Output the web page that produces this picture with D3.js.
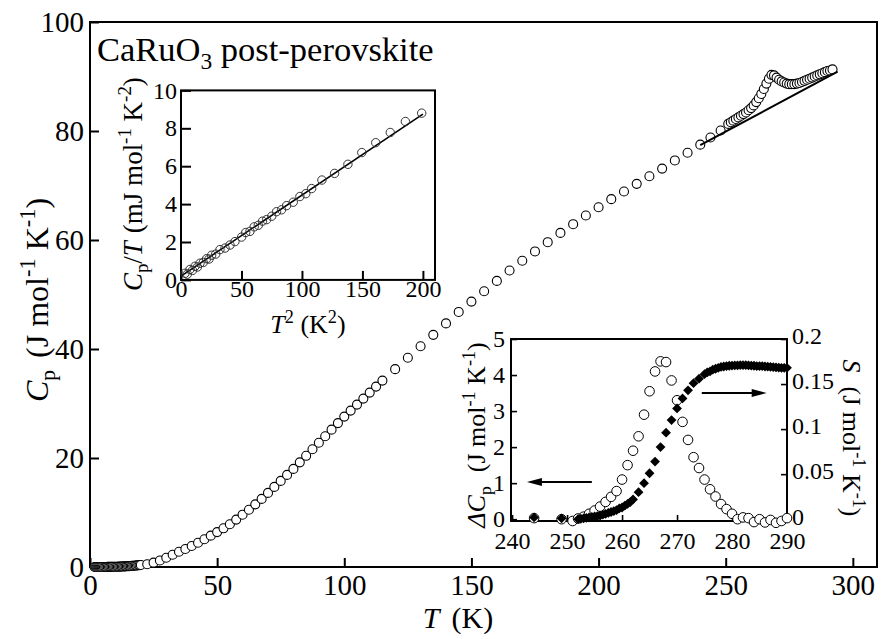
<!DOCTYPE html>
<html>
<head>
<meta charset="utf-8">
<script src="https://cdn.jsdelivr.net/npm/d3@7"></script>
<style>
  body { margin: 0; background: #fff; }
  svg text { font-family: "Liberation Serif", "Times New Roman", serif; fill: #000; }
</style>
</head>
<body>
<svg id="chart" width="882" height="639"></svg>
<script>
// ---- Main panel: heat capacity Cp(T) ----
const mainT = [
  1.8, 2.2, 2.6, 3.0, 3.4, 3.8, 4.2, 4.6, 5.0, 5.5, 6.0, 6.5, 7.0, 7.5, 8.0, 8.5, 9.0, 9.5, 10.0,
  10.5, 11.0, 11.5, 12.0, 12.5, 13.0, 13.5, 14.0, 14.5, 15.0, 15.5, 16.0, 16.5, 17.0, 17.5, 18.0,
  18.5, 19.0, 19.5, 20.0,
  22.5, 25, 27.5, 30, 32.5, 35, 37.5, 40, 42.5, 45, 47.5, 50, 52.5, 55, 57.5, 60, 62.5, 65, 67.5,
  70, 72.5, 75, 77.5, 80, 82.5, 85, 87.5, 90, 92.5, 95, 97.5, 100, 102.5, 105, 107.5, 110, 112.5, 115,
  120, 125, 130, 135, 140, 145, 150, 155, 160, 165, 170, 175, 180, 185, 190, 195, 200, 205, 210,
  215, 220, 225, 230, 235, 240, 244, 248,
  251, 252, 253, 254, 255, 256, 257, 258, 259, 260, 261, 262, 263, 264, 265, 266, 267, 268, 269,
  270, 271, 272, 273, 274, 275, 276, 277, 278, 279, 280, 281, 282, 283, 284, 285, 286, 287, 288,
  289, 290, 291, 292
];
const mainCp = [
  0.0006, 0.0009, 0.0013, 0.0018, 0.0024, 0.0031, 0.004, 0.005, 0.0064, 0.0083, 0.0105, 0.013,
  0.016, 0.020, 0.024, 0.028, 0.033, 0.039, 0.045, 0.052, 0.059, 0.068, 0.076, 0.086, 0.097, 0.108,
  0.12, 0.135, 0.15, 0.166, 0.183, 0.2, 0.22, 0.24, 0.265, 0.29, 0.315, 0.345, 0.375,
  0.5, 0.8, 1.2, 1.7, 2.25, 2.8, 3.3, 3.85, 4.45, 5.1, 5.75, 6.4, 7.1, 7.85, 8.7, 9.6, 10.5, 11.5,
  12.5, 13.6, 14.7, 15.8, 16.9, 18.0, 19.2, 20.4, 21.6, 22.8, 24.0, 25.2, 26.4, 27.6, 28.7, 29.8,
  30.9, 32.0, 33.1, 34.2,
  36.3, 38.4, 40.5, 42.6, 44.7, 46.8, 48.7, 50.6, 52.5, 54.4, 56.2, 57.9, 59.6, 61.3, 62.9, 64.5,
  66.0, 67.5, 68.9, 70.3, 71.7, 73.1, 74.6, 76.0, 77.5, 78.8, 80.1,
  81.3, 81.6, 81.9, 82.2, 82.5, 82.8, 83.1, 83.4, 83.8, 84.2, 84.7, 85.3, 86.0, 86.8, 87.7, 88.7,
  89.6, 90.3, 90.2, 89.8, 89.4, 89.1, 88.9, 88.7, 88.6, 88.6, 88.6, 88.7, 88.8, 89.0, 89.2, 89.4,
  89.6, 89.8, 90.0, 90.2, 90.4, 90.6, 90.8, 91.0, 91.1, 91.3
];
// lattice background drawn through the transition
const bgT = [240, 294];
const bgCp = [77.4, 90.9];
const mainXTicks = [0, 50, 100, 150, 200, 250, 300];
const mainYTicks = [0, 20, 40, 60, 80, 100];

// ---- Upper inset: Cp/T versus T^2 ----
const lowT2 = [3.3, 5.2, 7.4, 9.5, 11.6, 13.6, 15.7, 18.4, 21.2, 23.2, 25.3, 28.7, 32.2, 36.4, 40.5,
  44.6, 50.1, 53.5, 57.0, 60.5, 63.9, 67.4, 70.8, 75.0, 79.0, 83.1, 87.3, 92.8, 98.3, 103.2, 108.0,
  116.5, 127.0, 138.0, 149.5, 161.0, 173.0, 185.5, 199.0];
const lowCpT = [0.35, 0.30, 0.55, 0.50, 0.72, 0.68, 0.88, 0.92, 1.12, 1.10, 1.30, 1.36, 1.60, 1.68,
  1.84, 2.02, 2.26, 2.50, 2.56, 2.80, 2.88, 3.10, 3.18, 3.36, 3.60, 3.70, 3.92, 4.10, 4.40, 4.55,
  4.82, 5.27, 5.62, 6.10, 6.72, 7.24, 7.78, 8.36, 8.80];
const fitT2 = [0, 200];
const fitCpT = [0.2, 8.75];
const lowXTicks = [0, 50, 100, 150, 200];
const lowYTicks = [0, 2, 4, 6, 8, 10];

// ---- Lower inset: excess heat capacity and entropy ----
const dCpT = [244, 249, 251, 252, 253, 254, 255, 256, 257, 258, 259, 260, 261, 262, 263, 264, 265,
  266, 267, 268, 269, 270, 271, 272, 273, 274, 275, 276, 277, 278, 279, 280, 281, 282, 283, 284,
  285, 286, 287, 288, 289, 290];
const dCp = [0.03, 0.0, -0.05, 0.02, 0.07, 0.15, 0.24, 0.35, 0.48, 0.62, 0.78, 1.1, 1.5, 1.9, 2.3,
  2.9, 3.55, 4.1, 4.38, 4.36, 3.85, 3.3, 2.7, 2.2, 1.72, 1.42, 1.1, 0.83, 0.63, 0.42, 0.28, 0.15,
  0.0, 0.05, 0.03, -0.08, 0.0, -0.09, -0.02, -0.1, -0.05, 0.03];
const entT = [244, 249, 252, 252.5, 253, 253.5, 254, 254.5, 255, 255.5, 256, 256.5, 257, 257.5,
  258, 258.5, 259, 259.5, 260, 260.5, 261, 261.5, 262, 263, 264, 265, 266, 267, 268, 269, 270, 271,
  272, 273, 274, 275, 275.5, 276, 276.5, 277, 277.5, 278, 278.5, 279, 279.5, 280, 280.5, 281, 281.5,
  282, 282.5, 283, 283.5, 284, 284.5, 285, 285.5, 286, 286.5, 287, 287.5, 288, 288.5, 289, 289.5, 290];
const entS = [0.002, 0.001, 0.0, 0.0005, 0.001, 0.0015, 0.002, 0.0025, 0.003, 0.0035, 0.004, 0.005,
  0.006, 0.007, 0.008, 0.009, 0.010, 0.012, 0.013, 0.015, 0.017, 0.019, 0.022, 0.030, 0.040, 0.051,
  0.064, 0.080, 0.096, 0.110, 0.123, 0.134, 0.143, 0.151, 0.156, 0.161, 0.163, 0.164, 0.166, 0.167,
  0.168, 0.169, 0.1695, 0.170, 0.1703, 0.1705, 0.1707, 0.1708, 0.171, 0.171, 0.171, 0.1708, 0.1705,
  0.1703, 0.170, 0.170, 0.1698, 0.1695, 0.1693, 0.169, 0.1688, 0.1685, 0.1683, 0.168, 0.168, 0.168];
const hiXTicks = [240, 250, 260, 270, 280, 290];
const hiYTicks = [0, 1, 2, 3, 4, 5];
const hiRTicks = [0, 0.05, 0.1, 0.15, 0.2];
const hiRLabels = ["0", "0.05", "0.1", "0.15", "0.2"];
// arrows pointing to the axis each series belongs to: [from T, to T, level on the left axis]
const arrowLeft = [254.5, 242.7, 1.03];
const arrowRight = [274.5, 286.3, 3.5];

const FONT = '"Liberation Serif", "Times New Roman", serif';
const svg = d3.select("#chart");

// rich text: parts with italic / subscript / superscript
function rich(textSel, parts, size) {
  let shift = 0;
  textSel.attr("font-size", size).style("font-family", FONT);
  parts.forEach(p => {
    let target = 0, fs = size;
    if (p.sub) { target = size * 0.22; fs = size * 0.68; }
    if (p.sup) { target = -size * 0.4; fs = size * 0.7; }
    const ts = textSel.append("tspan").text(p.t).attr("font-size", fs);
    const dy = target - shift;
    if (dy !== 0) ts.attr("dy", dy);
    if (p.dx) ts.attr("dx", p.dx);
    if (p.i) ts.attr("font-style", "italic");
    shift = target;
  });
}

function styleAxis(g, size, tickWidth) {
  g.select(".domain").remove();
  g.selectAll(".tick line").attr("stroke", "#000").attr("stroke-width", tickWidth);
  g.selectAll(".tick text").attr("font-size", size).style("font-family", FONT).attr("fill", "#000");
}

// ================= Main panel =================
const x = d3.scaleLinear().domain([0, 309.5]).range([90, 877]);
const y = d3.scaleLinear().domain([0, 100]).range([567, 22]);

svg.append("rect")
  .attr("x", x.range()[0]).attr("y", y.range()[1])
  .attr("width", x.range()[1] - x.range()[0]).attr("height", y.range()[0] - y.range()[1])
  .attr("fill", "none").attr("stroke", "#000").attr("stroke-width", 2);

const gx = svg.append("g").attr("transform", `translate(0,${y.range()[0]})`)
  .call(d3.axisBottom(x).tickValues(mainXTicks).tickFormat(d3.format("d"))
    .tickSizeInner(-9).tickSizeOuter(0).tickPadding(10));
const gy = svg.append("g").attr("transform", `translate(${x.range()[0]},0)`)
  .call(d3.axisLeft(y).tickValues(mainYTicks).tickFormat(d3.format("d"))
    .tickSizeInner(-9).tickSizeOuter(0).tickPadding(6));
styleAxis(gx, 29, 2);
styleAxis(gy, 29, 2);
gx.selectAll(".tick text").attr("dy", "0.62em");

// data circles
const mainPts = mainT.map((t, i) => [t, mainCp[i]]);
svg.append("g").selectAll("circle").data(mainPts).join("circle")
  .attr("cx", d => x(d[0])).attr("cy", d => y(d[1])).attr("r", 4.5)
  .attr("fill", "#fff").attr("stroke", "#000").attr("stroke-width", 1.1);

svg.append("path")
  .attr("d", d3.line().x(d => x(d[0])).y(d => y(d[1]))(bgT.map((t, i) => [t, bgCp[i]])))
  .attr("fill", "none").attr("stroke", "#000").attr("stroke-width", 2);

// title
rich(svg.append("text").attr("x", 97).attr("y", 61),
  [{ t: "CaRuO" }, { t: "3", sub: true }, { t: " post-perovskite" }], 34.5);

// axis titles
rich(svg.append("text").attr("x", 458).attr("y", 628).attr("text-anchor", "middle"),
  [{ t: "T", i: true }, { t: "(K)", dx: 12 }], 30);
rich(svg.append("text").attr("transform", "translate(48,300) rotate(-90)").attr("text-anchor", "middle"),
  [{ t: "C", i: true }, { t: "p", sub: true }, { t: "(J mol", dx: 12 }, { t: "-1", sup: true }, { t: " K" },
   { t: "-1", sup: true }, { t: ")" }], 32);

// ================= Upper inset =================
const ix = d3.scaleLinear().domain([0, 210]).range([181, 435]);
const iy = d3.scaleLinear().domain([0, 10]).range([279.9, 90.4]);

svg.append("rect")
  .attr("x", ix.range()[0]).attr("y", iy.range()[1])
  .attr("width", ix.range()[1] - ix.range()[0]).attr("height", iy.range()[0] - iy.range()[1])
  .attr("fill", "#fff").attr("stroke", "#000").attr("stroke-width", 2);

const igx = svg.append("g").attr("transform", `translate(0,${iy.range()[0]})`)
  .call(d3.axisBottom(ix).tickValues(lowXTicks).tickFormat(d3.format("d"))
    .tickSizeInner(-9).tickSizeOuter(0).tickPadding(2));
const igy = svg.append("g").attr("transform", `translate(${ix.range()[0]},0)`)
  .call(d3.axisLeft(iy).tickValues(lowYTicks).tickFormat(d3.format("d"))
    .tickSizeInner(-10).tickSizeOuter(0).tickPadding(4));
styleAxis(igx, 24, 2);
styleAxis(igy, 24, 2);
igx.selectAll(".tick text").attr("dy", "0.62em");

svg.append("path")
  .attr("d", d3.line().x(d => ix(d[0])).y(d => iy(d[1]))(fitT2.map((t, i) => [t, fitCpT[i]])))
  .attr("fill", "none").attr("stroke", "#000").attr("stroke-width", 1.6);
svg.append("g").selectAll("circle").data(lowT2.map((t, i) => [t, lowCpT[i]])).join("circle")
  .attr("cx", d => ix(d[0])).attr("cy", d => iy(d[1])).attr("r", 4.2)
  .attr("fill", "none").attr("stroke", "#333").attr("stroke-width", 1);

rich(svg.append("text").attr("x", 308).attr("y", 333).attr("text-anchor", "middle"),
  [{ t: "T", i: true }, { t: "2", sup: true }, { t: " (K" }, { t: "2", sup: true }, { t: ")" }], 26);
rich(svg.append("text").attr("transform", "translate(142,184) rotate(-90)").attr("text-anchor", "middle"),
  [{ t: "C", i: true }, { t: "p", sub: true }, { t: "/" }, { t: "T", i: true }, { t: "(mJ mol", dx: 8 },
   { t: "-1", sup: true }, { t: " K" }, { t: "-2", sup: true }, { t: ")" }], 27);

// ================= Lower inset =================
const hx = d3.scaleLinear().domain([239.8, 290]).range([511, 787]);
const hy = d3.scaleLinear().domain([-0.05, 5]).range([521, 339]);
const hyR = d3.scaleLinear().domain([-0.002, 0.2]).range([521, 339]);

svg.append("rect")
  .attr("x", hx.range()[0]).attr("y", hy.range()[1])
  .attr("width", hx.range()[1] - hx.range()[0]).attr("height", hy.range()[0] - hy.range()[1])
  .attr("fill", "#fff").attr("stroke", "#000").attr("stroke-width", 2);

const hgx = svg.append("g").attr("transform", `translate(0,${hy.range()[0]})`)
  .call(d3.axisBottom(hx).tickValues(hiXTicks).tickFormat(d3.format("d"))
    .tickSizeInner(-6).tickSizeOuter(0).tickPadding(13));
const hgy = svg.append("g").attr("transform", `translate(${hx.range()[0]},0)`)
  .call(d3.axisLeft(hy).tickValues(hiYTicks).tickFormat(d3.format("d"))
    .tickSizeInner(-6).tickSizeOuter(0).tickPadding(6));
const hgr = svg.append("g").attr("transform", `translate(${hx.range()[1]},0)`)
  .call(d3.axisRight(hyR).tickValues(hiRTicks).tickFormat((d, i) => hiRLabels[i])
    .tickSizeInner(-6).tickSizeOuter(0).tickPadding(5));
styleAxis(hgx, 24, 1.6);
styleAxis(hgy, 24, 1.6);
styleAxis(hgr, 24, 1.6);
hgx.selectAll(".tick text").attr("dy", "0.62em");
hgr.selectAll(".tick text").attr("dy", "0.2em");

svg.append("g").selectAll("circle").data(dCpT.map((t, i) => [t, dCp[i]])).join("circle")
  .attr("cx", d => hx(d[0])).attr("cy", d => hy(d[1])).attr("r", 4.8)
  .attr("fill", "#fff").attr("stroke", "#000").attr("stroke-width", 1);
const diamond = d3.symbol().type(d3.symbolSquare).size(48);
svg.append("g").selectAll("path").data(entT.map((t, i) => [t, entS[i]])).join("path")
  .attr("d", diamond)
  .attr("transform", d => `translate(${hx(d[0])},${hyR(d[1])}) rotate(45)`)
  .attr("fill", "#000");

// arrows
function arrow(a) {
  const x0 = hx(a[0]), x1 = hx(a[1]), yy = hy(a[2]);
  const dir = Math.sign(x1 - x0), head = 15, hw = 4;
  svg.append("line").attr("x1", x0).attr("x2", x1 - dir * head + dir * 2).attr("y1", yy).attr("y2", yy)
    .attr("stroke", "#000").attr("stroke-width", 2);
  svg.append("path")
    .attr("d", `M${x1},${yy} L${x1 - dir * head},${yy - hw} L${x1 - dir * head},${yy + hw} Z`)
    .attr("fill", "#000");
}
arrow(arrowLeft);
arrow(arrowRight);

rich(svg.append("text").attr("transform", "translate(485,435) rotate(-90)").attr("text-anchor", "middle"),
  [{ t: "ΔC", i: true }, { t: "p", sub: true }, { t: "(J mol", dx: 14 }, { t: "-1", sup: true }, { t: " K" },
   { t: "-1", sup: true }, { t: ")" }], 26);
rich(svg.append("text").attr("transform", "translate(843,438) rotate(90)").attr("text-anchor", "middle"),
  [{ t: "S", i: true }, { t: "(J mol", dx: 14 }, { t: "-1", sup: true }, { t: " K" },
   { t: "-1", sup: true }, { t: ")" }], 26);
</script>
</body>
</html>
